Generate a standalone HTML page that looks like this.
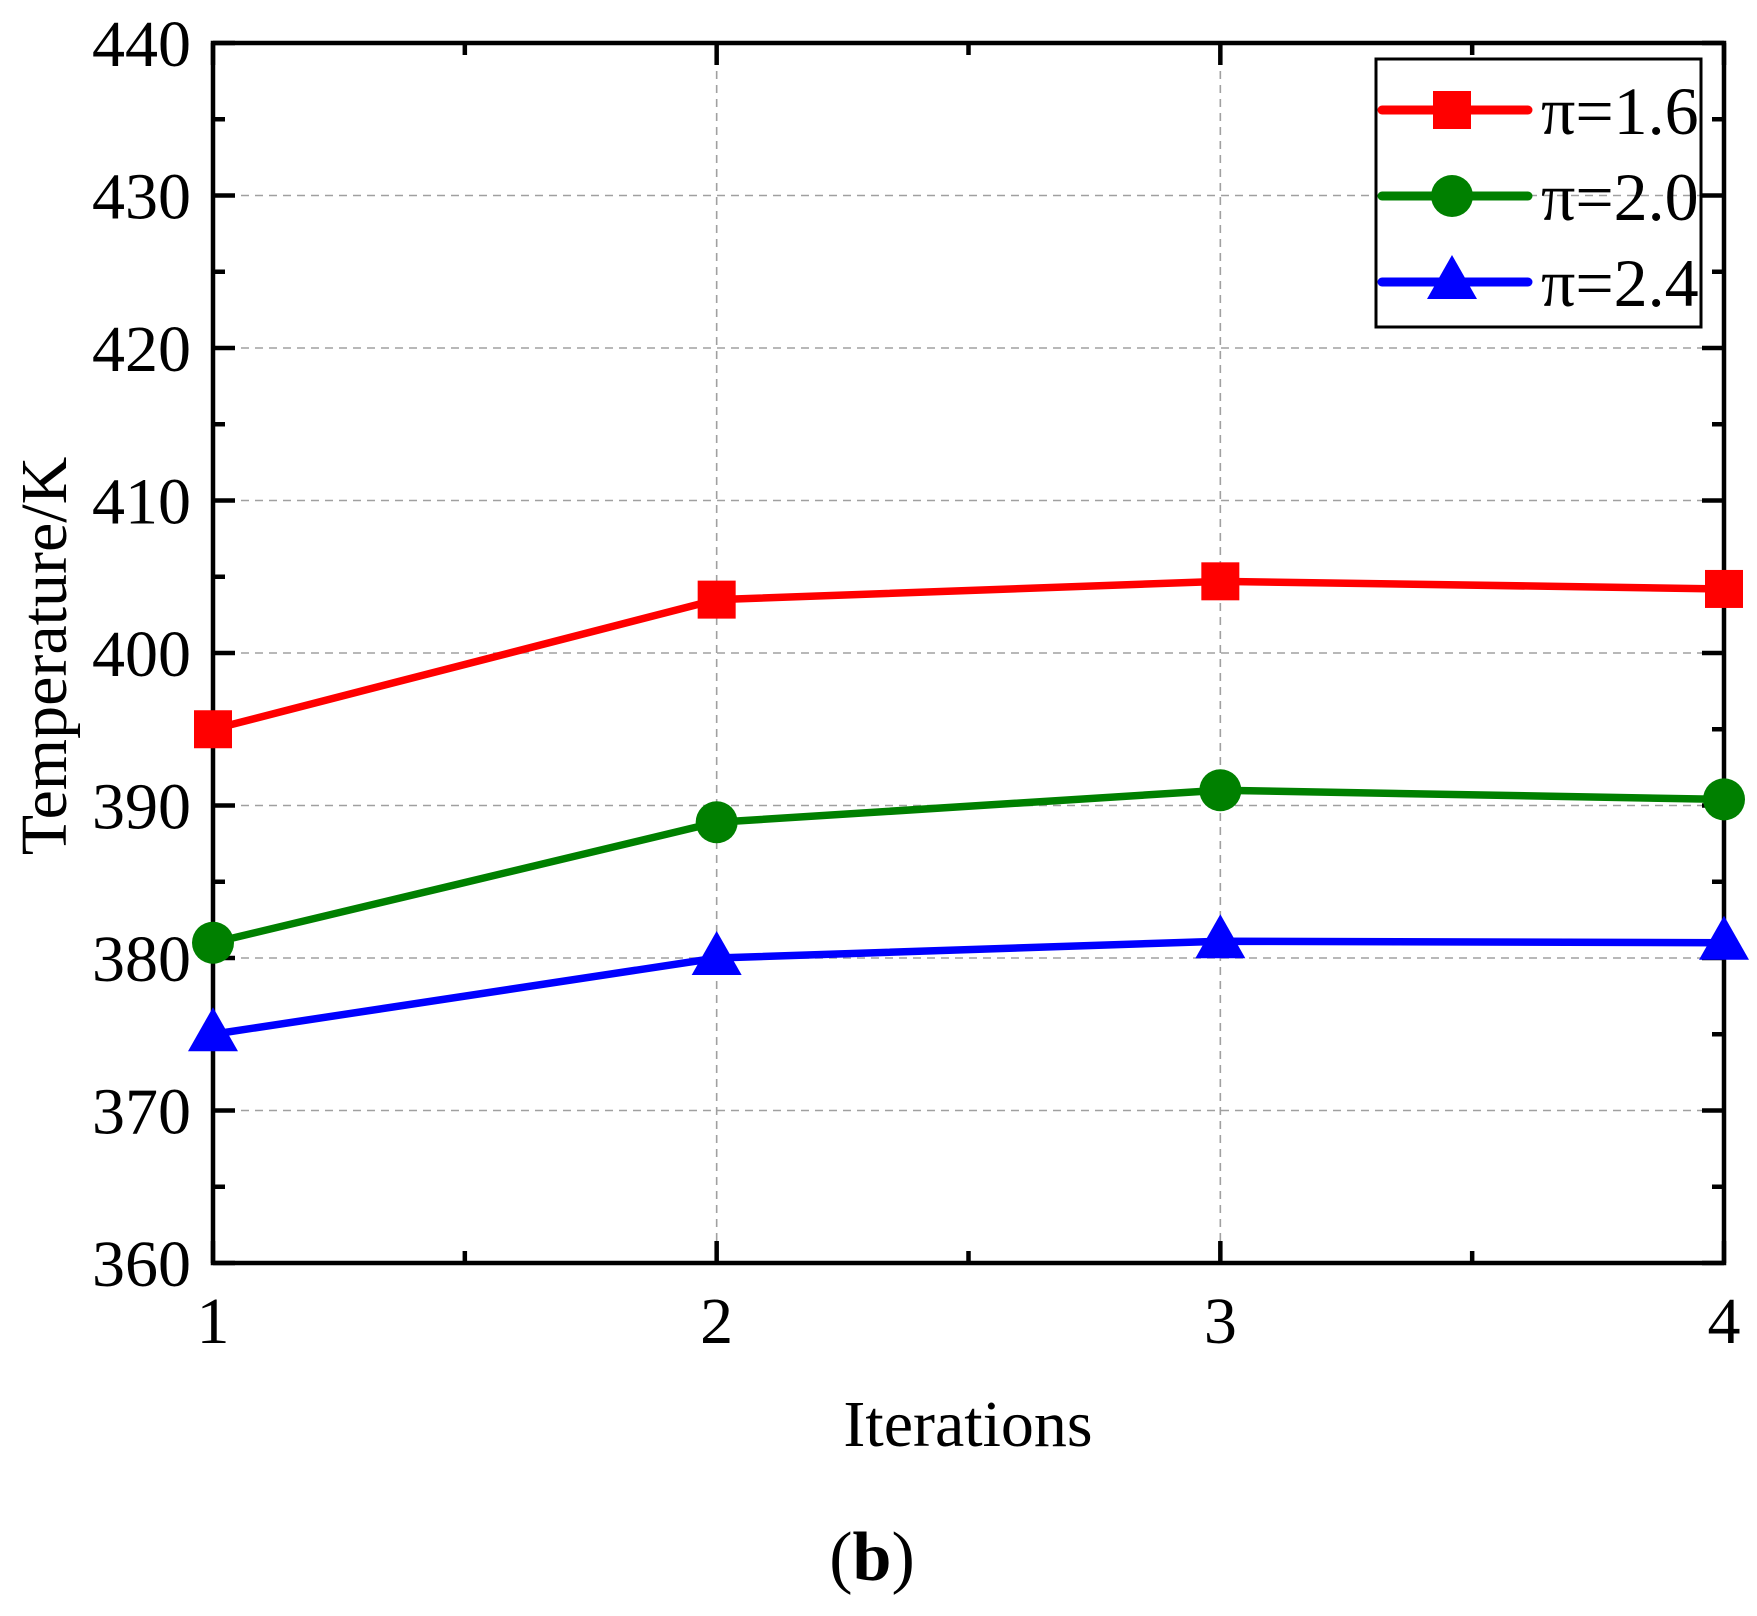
<!DOCTYPE html>
<html><head><meta charset="utf-8"><style>body{margin:0;background:#fff}svg{display:block}</style></head>
<body>
<svg id="chart" width="1757" height="1616" xmlns="http://www.w3.org/2000/svg" font-family="Liberation Serif, serif">
<g id="grid"></g>
<g id="axes"></g>
<g id="series"></g>
<text transform="translate(66,656) rotate(-90)" text-anchor="middle" font-size="66">Temperature/K</text>
<text x="968" y="1446" text-anchor="middle" font-size="66">Iterations</text>
<text x="872" y="1580" text-anchor="middle" font-size="70">(<tspan font-weight="bold">b</tspan>)</text>
<g id="legend"></g>
</svg>
<script>
const categories = [1, 2, 3, 4];
const seriesNames = ["π=1.6", "π=2.0", "π=2.4"];
const red16 = [395, 403.5, 404.7, 404.2];
const green20 = [381, 388.9, 391, 390.4];
const blue24 = [375, 380, 381.1, 381];
const yTicks = [360, 370, 380, 390, 400, 410, 420, 430, 440];
const xTicks = [1, 2, 3, 4];

const L = 213, R = 1724, T = 43, B = 1263;
const NS = "http://www.w3.org/2000/svg";
const xS = v => L + (v - 1) / 3 * (R - L);
const yS = v => B - (v - 360) / 80 * (B - T);
function mk(tag, attrs, parent) {
  const e = document.createElementNS(NS, tag);
  for (const k in attrs) e.setAttribute(k, attrs[k]);
  parent.appendChild(e);
  return e;
}
const grid = document.getElementById('grid'), axes = document.getElementById('axes'),
      ser = document.getElementById('series'), leg = document.getElementById('legend');

yTicks.forEach(t => {
  const y = yS(t);
  if (t > 360 && t < 440) {
    const g = mk('line', {x1: L, x2: R, y1: y, y2: y, stroke: '#a0a0a0', 'stroke-width': 1.6, 'stroke-dasharray': '8,6'}, grid);
    
    
  }
  [[L, L + 22], [R, R - 22]].forEach(p => mk('line', {x1: p[0], x2: p[1], y1: y, y2: y, stroke: '#000', 'stroke-width': 4.5}, axes));
  if (t < 440) {
    const ym = yS(t + 5);
    [[L, L + 12], [R, R - 12]].forEach(p => mk('line', {x1: p[0], x2: p[1], y1: ym, y2: ym, stroke: '#000', 'stroke-width': 4.5}, axes));
  }
  const lb = mk('text', {x: L - 22, y: y + 23, 'text-anchor': 'end', 'font-size': 66}, axes);
  lb.textContent = t;
  
  
});
xTicks.forEach((t, i) => {
  const x = xS(t);
  if (t > 1 && t < 4) {
    const g = mk('line', {x1: x, x2: x, y1: T, y2: B, stroke: '#a0a0a0', 'stroke-width': 1.6, 'stroke-dasharray': '8,6'}, grid);
    
    
  }
  [[B, B - 22], [T, T + 22]].forEach(p => mk('line', {x1: x, x2: x, y1: p[0], y2: p[1], stroke: '#000', 'stroke-width': 4.5}, axes));
  if (t < 4) {
    const xm = xS(t + 0.5);
    [[B, B - 12], [T, T + 12]].forEach(p => mk('line', {x1: xm, x2: xm, y1: p[0], y2: p[1], stroke: '#000', 'stroke-width': 4.5}, axes));
  }
  const lb = mk('text', {x: x, y: B + 80, 'text-anchor': 'middle', 'font-size': 66}, axes);
  lb.textContent = t;
  
  
});
const frame = mk('rect', {x: L, y: T, width: R - L, height: B - T, fill: 'none', stroke: '#000', 'stroke-width': 4.5}, axes);



function marker(kind, x, y, color, parent) {
  let m;
  if (kind === 'square') m = mk('rect', {x: x - 19, y: y - 19, width: 38, height: 38, fill: color}, parent);
  else if (kind === 'circle') m = mk('circle', {cx: x, cy: y, r: 21, fill: color}, parent);
  else m = mk('polygon', {points: `${x},${y - 27} ${x - 25},${y + 17} ${x + 25},${y + 17}`, fill: color}, parent);
  return m;
}
const defs = [[red16, '#ff0000', 'square'], [green20, '#008000', 'circle'], [blue24, '#0000ff', 'triangle']];
defs.forEach((d, si) => {
  const g = mk('g', {}, ser);
  
  
  const pts = d[0].map((v, i) => xS(categories[i]) + ',' + yS(v)).join(' ');
  mk('polyline', {points: pts, fill: 'none', stroke: d[1], 'stroke-width': 7.5, 'stroke-linejoin': 'round'}, g);
  d[0].forEach((v, i) => {
    const m = marker(d[2], xS(categories[i]), yS(v), d[1], g);
    
    
  });
  const ly = 110 + si * 86;
  const le = mk('g', {}, leg);
  
  
  mk('line', {x1: 1382, x2: 1528, y1: ly, y2: ly, stroke: d[1], 'stroke-width': 9, 'stroke-linecap': 'round'}, le);
  marker(d[2], 1452, ly, d[1], le);
  const t = mk('text', {x: 1541, y: ly + 24, 'font-size': 68}, le);
  t.textContent = seriesNames[si];
});
const lbox = mk('rect', {x: 1376, y: 59, width: 325, height: 268, fill: 'none', stroke: '#000', 'stroke-width': 3}, leg);


</script>
</body></html>
